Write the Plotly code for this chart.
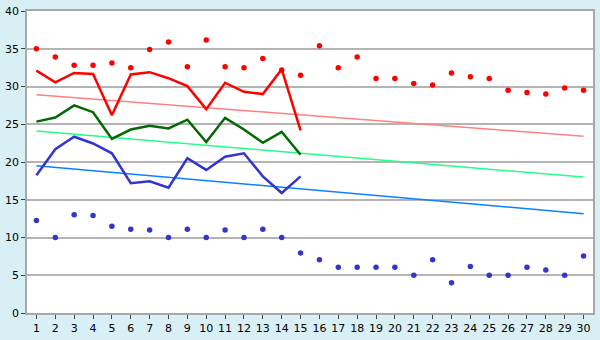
import plotly.graph_objects as go

days = list(range(1, 31))
days_line = list(range(1, 16))

red_dots = [35.0, 33.9, 32.8, 32.8, 33.1, 32.5, 34.9, 35.9, 32.6, 36.15,
            32.6, 32.5, 33.7, 32.2, 31.5, 35.4, 32.5, 33.9, 31.05, 31.05,
            30.4, 30.2, 31.8, 31.3, 31.05, 29.5, 29.2, 29.0, 29.8, 29.5]
blue_dots = [12.25, 10.0, 13.0, 12.9, 11.5, 11.1, 11.0, 10.0, 11.1, 10.0,
             11.0, 10.0, 11.1, 10.0, 7.95, 7.05, 6.05, 6.05, 6.05, 6.05,
             5.0, 7.05, 4.0, 6.15, 5.0, 5.0, 6.05, 5.7, 5.0, 7.55]

red_line = [32.1, 30.55, 31.8, 31.65, 26.2, 31.6, 31.9, 31.1, 30.05, 27.0,
            30.5, 29.3, 29.0, 32.3, 24.2]
green_line = [25.35, 25.9, 27.5, 26.6, 23.05, 24.3, 24.8, 24.45, 25.6, 22.65,
              25.85, 24.3, 22.55, 24.0, 20.95]
blue_line = [18.25, 21.7, 23.35, 22.45, 21.15, 17.2, 17.45, 16.6, 20.5, 18.95,
             20.7, 21.15, 18.1, 15.9, 18.1]

trend_x = [1, 30]
red_trend = [28.9, 23.4]
green_trend = [24.1, 18.0]
blue_trend = [19.5, 13.15]

y_ticks = [0, 5, 10, 15, 20, 25, 30, 35, 40]

fig = go.Figure()
fig.add_trace(go.Scatter(x=trend_x, y=red_trend, mode="lines",
                         line=dict(color="#ff8080", width=1.5)))
fig.add_trace(go.Scatter(x=trend_x, y=green_trend, mode="lines",
                         line=dict(color="#22ff88", width=1.5)))
fig.add_trace(go.Scatter(x=trend_x, y=blue_trend, mode="lines",
                         line=dict(color="#0a80ff", width=1.5)))
fig.add_trace(go.Scatter(x=days_line, y=red_line, mode="lines",
                         line=dict(color="#ff0000", width=2.5)))
fig.add_trace(go.Scatter(x=days_line, y=green_line, mode="lines",
                         line=dict(color="#006a00", width=2.5)))
fig.add_trace(go.Scatter(x=days_line, y=blue_line, mode="lines",
                         line=dict(color="#3535cc", width=2.5)))
fig.add_trace(go.Scatter(x=days, y=red_dots, mode="markers",
                         marker=dict(symbol="circle", size=5.5, color="#ff0000")))
fig.add_trace(go.Scatter(x=days, y=blue_dots, mode="markers",
                         marker=dict(symbol="circle", size=5.5, color="#3535cc")))

fig.update_layout(
    width=600, height=340,
    margin=dict(l=20, r=5, t=5, b=20),
    paper_bgcolor="#d9eff6",
    plot_bgcolor="white",
    showlegend=False,
    font=dict(family="DejaVu Sans", size=11, color="black"),
)
fig.update_xaxes(
    range=[0.5, 30.5], tickmode="array", tickvals=days,
    ticktext=[str(d) for d in days],
    showgrid=False, zeroline=False,
    showline=True, linecolor="#a8a8a8", linewidth=1.5, mirror=True,
    ticks="outside", ticklen=4, tickcolor="#404040",
)
fig.update_yaxes(
    range=[0, 40], tickmode="array", tickvals=y_ticks,
    showgrid=True, gridcolor="#b4b4b4", gridwidth=1.5, zeroline=False,
    showline=True, linecolor="#a8a8a8", linewidth=1.5, mirror=True,
    ticks="outside", ticklen=4, tickcolor="#404040",
)
fig.write_html("out.html")
